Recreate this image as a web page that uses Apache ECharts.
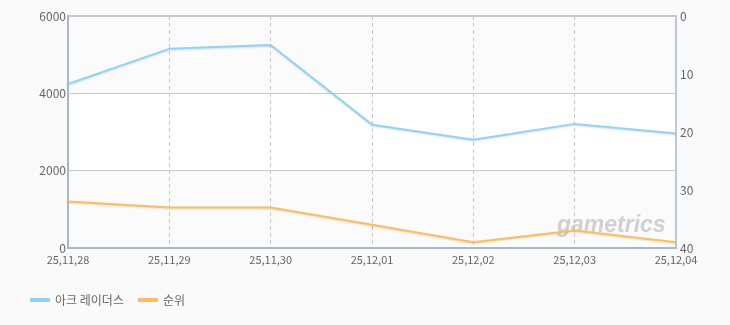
<!DOCTYPE html>
<html><head><meta charset="utf-8">
<script src="https://cdn.jsdelivr.net/npm/echarts@6/dist/echarts.min.js"></script>
<style>html,body{margin:0;padding:0;background:#fafafa}#c{width:730px;height:325px}</style>
</head><body><div id="c"></div>
<script>
const categories = ['25,11,28','25,11,29','25,11,30','25,12,01','25,12,02','25,12,03','25,12,04'];
const users = [4240, 5150, 5250, 3190, 2800, 3210, 2960];
const rank = [32, 33, 33, 36, 39, 37, 39];
const seriesNames = ['아크 레이더스', '순위'];
const leftTicks = {min: 0, max: 6000, interval: 2000};
const rightTicks = {min: 0, max: 40, interval: 10};

const font = '"Noto Sans CJK KR", "DejaVu Sans", sans-serif';
const chart = echarts.init(document.getElementById('c'));
chart.setOption({
  backgroundColor: '#fafafa',
  animation: false,
  textStyle: {fontFamily: font},
  grid: {left: 68, right: 54, top: 16, bottom: 77, show: true, borderColor: '#b9c9da', borderWidth: 2, backgroundColor: 'transparent'},
  legend: {
    left: 25, bottom: 14, itemWidth: 20, itemHeight: 4, itemGap: 14, icon: 'rect',
    textStyle: {color: '#666', fontSize: 12, fontFamily: font},
    data: seriesNames
  },
  xAxis: {
    type: 'category', data: categories, boundaryGap: false,
    axisLine: {lineStyle: {color: '#a7b7c8', width: 2}},
    axisTick: {show: false},
    axisLabel: {color: '#666', fontSize: 11, margin: 6, fontFamily: font},
    splitLine: {show: true, lineStyle: {color: '#c8c8c8', type: [4, 3], width: 1}}
  },
  yAxis: [{
    type: 'value', min: leftTicks.min, max: leftTicks.max, interval: leftTicks.interval,
    axisLine: {show: true, lineStyle: {color: '#a7b7c8', width: 2}},
    axisTick: {show: false},
    axisLabel: {color: '#666', fontSize: 12, margin: 2, fontFamily: font, formatter: v => String(v)},
    splitLine: {show: true, lineStyle: {color: '#c8c8c8', width: 1}},
    splitArea: {show: true, areaStyle: {color: ['#fbfbfb', '#ffffff']}}
  }, {
    type: 'value', min: rightTicks.min, max: rightTicks.max, interval: rightTicks.interval, inverse: true,
    position: 'right',
    axisLine: {show: true, lineStyle: {color: '#b9c9da', width: 2}},
    axisTick: {show: false},
    axisLabel: {color: '#666', fontSize: 12, margin: 4, fontFamily: font},
    splitLine: {show: false}
  }],
  graphic: [{
    type: 'text', left: 557, top: 214, z: 1, silent: true,
    style: {text: 'gametrics', fill: 'rgba(165,165,165,0.5)', font: 'italic bold 23px "Liberation Sans", sans-serif'}
  }],
  series: [{
    name: seriesNames[0], type: 'line', data: users, yAxisIndex: 0, symbol: 'none', z: 3,
    itemStyle: {color: '#92d3f3'},
    lineStyle: {color: '#92d3f3', width: 2, shadowColor: 'rgba(0,0,0,0.12)', shadowBlur: 2, shadowOffsetY: 1}
  }, {
    name: seriesNames[1], type: 'line', data: rank, yAxisIndex: 1, symbol: 'none', z: 3,
    itemStyle: {color: '#fbbe5e'},
    lineStyle: {color: '#fbbe5e', width: 2, shadowColor: 'rgba(0,0,0,0.12)', shadowBlur: 2, shadowOffsetY: 1}
  }]
});
</script></body></html>
